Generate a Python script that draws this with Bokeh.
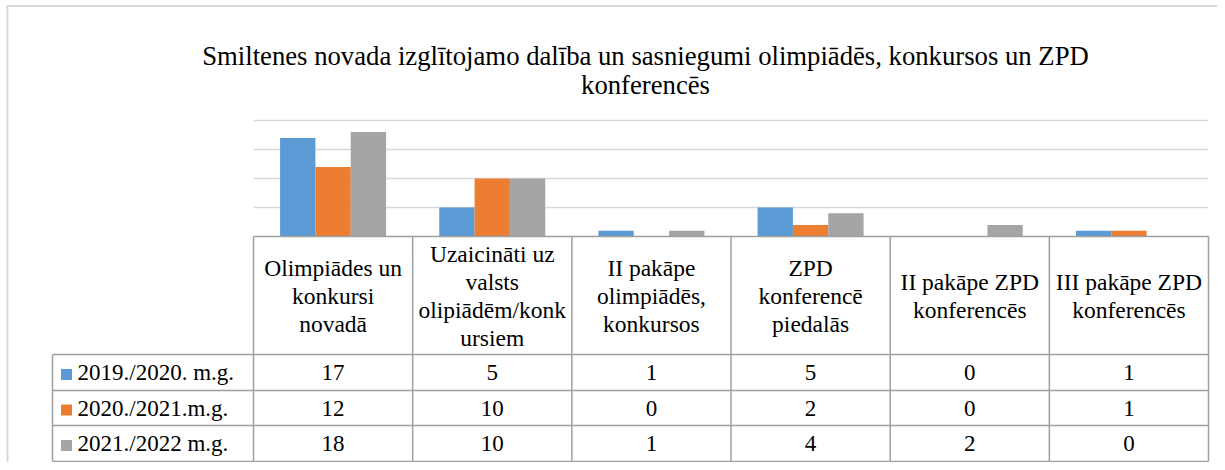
from bokeh.plotting import figure
from bokeh.models import Range1d, ColumnDataSource
from bokeh.core.properties import value
from bokeh.embed import file_html
from bokeh.resources import INLINE

# ---------------- data ----------------
categories = [
    "Olimpiādes un\nkonkursi\nnovadā",
    "Uzaicināti uz\nvalsts\nolipiādēm/konk\nursiem",
    "II pakāpe\nolimpiādēs,\nkonkursos",
    "ZPD\nkonferencē\npiedalās",
    "II pakāpe ZPD\nkonferencēs",
    "III pakāpe ZPD\nkonferencēs",
]
series_names = ["2019./2020. m.g.", "2020./2021.m.g.", "2021./2022 m.g."]
s2019_2020 = [17, 5, 1, 5, 0, 1]
s2020_2021 = [12, 10, 0, 2, 0, 1]
s2021_2022 = [18, 10, 1, 4, 2, 0]
title_text = "Smiltenes novada izglītojamo dalība un sasniegumi olimpiādēs, konkursos un ZPD\nkonferencēs"
y_grid_values = [5, 10, 15, 20]

# ---------------- styles / layout ----------------
colors = ["#5b9bd5", "#ed7d31", "#a5a5a5"]
FONT = "'Liberation Serif', 'Times New Roman', serif"
W, H = 1217, 462
X0, CW = 253.0, 159.17        # left of first category column, column width (px)
BASE, K = 236.0, 5.8          # baseline (px from top), px per unit
BAR_W = 0.222
GRID_COLOR = "#d9d9d9"
TABLE_COLOR = "#a0a0a0"

def dx(fx):
    return (fx - X0) / CW

def dy(fy):
    return (BASE - fy) / K

p = figure(width=W, height=H, output_backend="svg", toolbar_location=None,
           x_range=Range1d(dx(0), dx(W)), y_range=Range1d(dy(H), dy(0)),
           x_axis_type=None, y_axis_type=None, min_border=0,
           background_fill_color="white", border_fill_color="white")
p.outline_line_color = None
p.xgrid.visible = False
p.ygrid.visible = False

n = len(categories)
centers = [i + 0.5 for i in range(n)]

def multiline(x, center_fy, text, spacing, size, align="center"):
    lines = text.split("\n")
    m = len(lines)
    ys = [dy(center_fy + (k - (m - 1) / 2) * spacing) for k in range(m)]
    p.text(x=[x] * m, y=ys, text=lines, text_font=value(FONT), text_font_size=size,
           text_align=align, text_baseline="middle", text_color="black")

# outer chart border (top + left)
p.segment(x0=[dx(6), dx(7)], y0=[dy(5.5), dy(5.5)], x1=[dx(W), dx(7)], y1=[dy(5.5), dy(H)],
          line_color=GRID_COLOR, line_width=2)

# gridlines
p.segment(x0=[0] * len(y_grid_values), y0=y_grid_values,
          x1=[n] * len(y_grid_values), y1=y_grid_values,
          line_color=GRID_COLOR, line_width=1.5)

# bars
all_series = [s2019_2020, s2020_2021, s2021_2022]
offsets = [-BAR_W, 0.0, BAR_W]
for vals, off, col in zip(all_series, offsets, colors):
    src = ColumnDataSource(dict(x=[c + off for c in centers], top=vals))
    p.vbar(x="x", top="top", bottom=0, width=BAR_W, source=src,
           fill_color=col, line_color=None)

# title
multiline(dx(645), 70, title_text, 28.5, "26.7px")

# ---------------- data table ----------------
row_edges = [354, 390, 425, 461]       # px from top
legend_left = 52
row_centers = [(row_edges[i] + row_edges[i + 1]) / 2 for i in range(3)]
header_center = (BASE + row_edges[0]) / 2

# header text
for c, cat in zip(centers, categories):
    multiline(c, header_center + 0.5, cat, 27.7, "23.5px")

# value cells
for r, vals in enumerate(all_series):
    p.text(x=centers, y=[dy(row_centers[r])] * n, text=[str(v) for v in vals],
           text_font=value(FONT), text_font_size="23px", text_align="center",
           text_baseline="middle", text_color="black")
    # legend key + name
    p.scatter(x=[dx(66)], y=[dy(row_centers[r] + 2)], marker="square", size=11,
              fill_color=colors[r], line_color=None)
    p.text(x=[dx(77)], y=[dy(row_centers[r])], text=[series_names[r]],
           text_font=value(FONT), text_font_size="23px", text_align="left",
           text_baseline="middle", text_color="black")

# table lines
hx0 = [0] + [dx(legend_left)] * len(row_edges)
hy = [0] + [dy(e) for e in row_edges]
p.segment(x0=hx0, y0=hy, x1=[n] * len(hy), y1=hy, line_color=TABLE_COLOR, line_width=1.5)
vx = list(range(n + 1))
p.segment(x0=vx, y0=[0] * len(vx), x1=vx, y1=[dy(row_edges[-1])] * len(vx),
          line_color=TABLE_COLOR, line_width=1.5)
p.segment(x0=[dx(legend_left)], y0=[dy(row_edges[0])], x1=[dx(legend_left)],
          y1=[dy(row_edges[-1])], line_color=TABLE_COLOR, line_width=1.5)

open("out.html", "w").write(file_html(p, INLINE))
